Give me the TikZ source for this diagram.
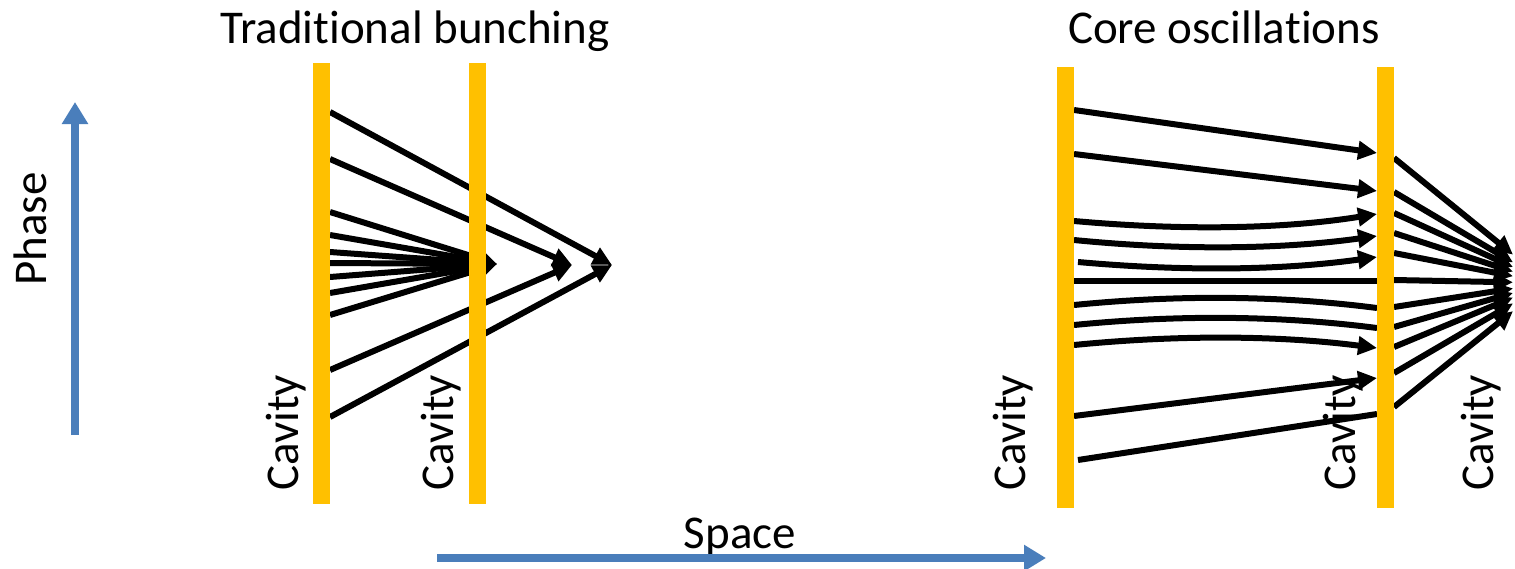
\documentclass[tikz,border=0pt]{standalone}
\usepackage{fontspec}
\setmainfont{Carlito}[RawFeature={-liga;-clig;-dlig;-calt}]
\usetikzlibrary{arrows.meta}

\definecolor{cavorange}{HTML}{FFC000}
\definecolor{axisblue}{HTML}{4A7EBB}

\tikzset{
  beam/.style={line width=6pt, line cap=butt, draw=black},
  beamarrow/.style={beam, -{Triangle[length=19pt,width=18pt]}},
  cavitybar/.style={fill=cavorange, draw=none, inner sep=0pt, minimum width=17pt, minimum height=441pt, anchor=north west},
  lbl/.style={font=\fontsize{47}{56}\selectfont, inner sep=0pt},
  vlbl/.style={lbl, rotate=90, anchor=base west},
  axis/.style={line width=8pt, draw=axisblue, -{Triangle[length=22pt,width=25pt]}}
}

\begin{document}
\begin{tikzpicture}[x=1pt, y=-1pt]
\useasboundingbox (0,0) rectangle (1515,568);

% ---------- titles and axes ----------
\node[lbl, anchor=base] (t1) at (415,43) {Traditional bunching};
\node[lbl, anchor=base] (t2) at (1224,43) {Core oscilla\kern0pt tions};
\node[vlbl] (phase) at (46,286) {Phase};
\node[lbl, anchor=base] (space) at (740,548) {Space};

\coordinate (ph0) at (75,435);
\coordinate (ph1) at (75,102);
\coordinate (sp0) at (437,558);
\coordinate (sp1) at (1046,558);
\draw[axis] (ph0) -- (ph1);
\draw[axis] (sp0) -- (sp1);

% ---------- traditional bunching ----------
\coordinate (fA) at (497,264);
\coordinate (fB) at (572,265);
\coordinate (fC) at (612,265);

\coordinate (l1) at (330,112);
\coordinate (l2) at (330,159);
\coordinate (l3) at (330,212);
\coordinate (l4) at (330,235);
\coordinate (l5) at (330,252);
\coordinate (l6) at (330,263);
\coordinate (l7) at (330,277);
\coordinate (l8) at (330,293);
\coordinate (l9) at (330,315);
\coordinate (l10) at (330,370);
\coordinate (l11) at (330,417);

\draw[beamarrow] (l1) -- (fC);
\draw[beamarrow] (l11) -- (fC);
\draw[beamarrow] (l2) -- (fB);
\draw[beamarrow] (l10) -- (fB);
\foreach \k in {3,...,9} {\draw[beamarrow] (l\k) -- (fA);}

% ---------- core oscillations: first to second cavity ----------
\coordinate (r1s) at (1074,110);  \coordinate (r1e) at (1377,153);
\coordinate (r2s) at (1074,154);  \coordinate (r2e) at (1377,191);
\coordinate (r3s) at (1074,221);  \coordinate (r3e) at (1377,214);
\coordinate (r4s) at (1074,240);  \coordinate (r4e) at (1377,236);
\coordinate (r5s) at (1078,262);  \coordinate (r5e) at (1377,257);
\coordinate (r6s) at (1074,281);  \coordinate (r6e) at (1377,281);
\coordinate (r7s) at (1074,305);  \coordinate (r7e) at (1377,308);
\coordinate (r8s) at (1074,325);  \coordinate (r8e) at (1377,328);
\coordinate (r9s) at (1074,345);  \coordinate (r9e) at (1377,348);
\coordinate (r10s) at (1074,416); \coordinate (r10e) at (1377,378);
\coordinate (r11s) at (1078,460); \coordinate (r11e) at (1377,414);

\draw[beamarrow] (r1s) -- (r1e);
\draw[beamarrow] (r2s) -- (r2e);
\draw[beamarrow] (r3s) .. controls (1175,230) and (1276,230) .. (r3e);
\draw[beamarrow] (r4s) .. controls (1175,250) and (1276,250) .. (r4e);
\draw[beamarrow] (r5s) .. controls (1178,271) and (1277,271) .. (r5e);
\draw[beam] (r6s) -- (r6e);
\draw[beam] (r7s) .. controls (1175,295) and (1276,295) .. (r7e);
\draw[beam] (r8s) .. controls (1175,315) and (1276,315) .. (r8e);
\draw[beamarrow] (r9s) .. controls (1175,335) and (1276,335) .. (r9e);
\draw[beamarrow] (r10s) -- (r10e);
\draw[beam] (r11s) -- (r11e);

% ---------- core oscillations: second cavity to focus ----------
\foreach \y [count=\k] in {158,192,213,233,253,280,307,327,347,373,407} {
  \coordinate (q\k s) at (1394,\y);
  \coordinate (q\k e) at (1513,{\y+(283-\y)*0.773});
  \draw[beamarrow] (q\k s) -- (q\k e);
}

% ---------- cavities ----------
\node[cavitybar] (cav1) at (313,63) {};
\node[cavitybar] (cav2) at (469,63) {};
\node[cavitybar] (cav3) at (1057,67) {};
\node[cavitybar] (cav4) at (1377,67) {};

\node[vlbl] (c1) at (298,491) {Cavity};
\node[vlbl] (c2) at (453,491) {Cavity};
\node[vlbl] (c3) at (1025,491) {Cavity};
\node[vlbl] (c4) at (1355,491) {Cavity};
\node[vlbl] (c5) at (1493,491) {Cavity};
\end{tikzpicture}
\end{document}
